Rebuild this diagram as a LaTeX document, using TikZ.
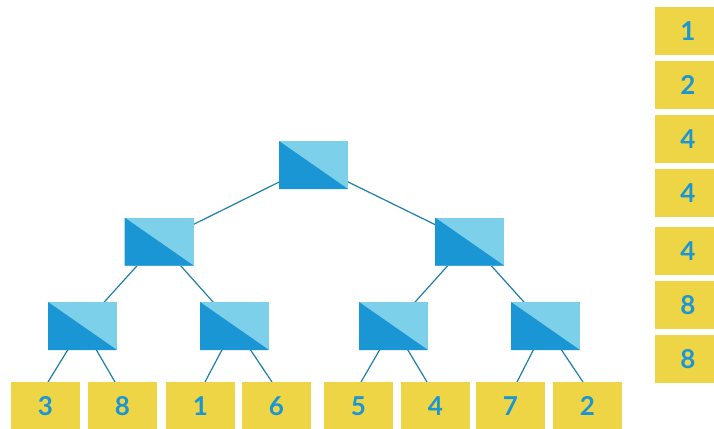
\documentclass[tikz,border=0pt]{standalone}
\usepackage{fontspec}
\setmainfont{Lato}
\usetikzlibrary{calc,backgrounds}
\definecolor{darkb}{HTML}{1A96D4}
\definecolor{lightb}{HTML}{7DD0EA}
\definecolor{linec}{HTML}{1E7FA8}
\definecolor{yel}{HTML}{EED545}
\definecolor{numc}{HTML}{1A96D4}
\tikzset{
  swbox/.style={rectangle, minimum width=69pt, minimum height=48pt, inner sep=0pt, outer sep=0pt,
    fill=lightb, path picture={\fill[darkb] (path picture bounding box.north west) -- (path picture bounding box.south west) -- (path picture bounding box.south east) -- cycle;}},
  leaf/.style={rectangle, minimum width=69pt, minimum height=48pt, inner sep=0pt, outer sep=0pt,
    fill=yel, text=numc, font=\fontsize{26}{26}\selectfont\bfseries},
  outbox/.style={leaf, minimum width=66pt},
  conn/.style={draw=linec, line width=1.2pt}
}
\begin{document}
\begin{tikzpicture}[x=1pt,y=-1pt]
\clip (0,0) rectangle (714,428);
% switch boxes
\node[swbox] (r) at (313.5,165) {};
\node[swbox] (a) at (159,241.5) {};
\node[swbox] (b) at (469.5,241.5) {};
\node[swbox] (a1) at (82.5,326) {};
\node[swbox] (a2) at (234.5,326) {};
\node[swbox] (b1) at (393.5,326) {};
\node[swbox] (b2) at (545.5,326) {};
% leaves
\node[leaf] (l1) at (45.5,406) {3};
\node[leaf] (l2) at (122.5,406) {8};
\node[leaf] (l3) at (200.5,406) {1};
\node[leaf] (l4) at (276.5,406) {6};
\node[leaf] (l5) at (358.5,406) {5};
\node[leaf] (l6) at (435.5,406) {4};
\node[leaf] (l7) at (510.5,406) {7};
\node[leaf] (l8) at (587.5,406) {2};
% output column
\node[outbox] (o1) at (688,31) {1};
\node[outbox] (o2) at (688,85) {2};
\node[outbox] (o3) at (688,139) {4};
\node[outbox] (o4) at (688,193) {4};
\node[outbox] (o5) at (688,251) {4};
\node[outbox] (o6) at (688,305) {8};
\node[outbox] (o7) at (688,359) {8};
\begin{scope}[on background layer]
\fill[white] (0,0) rectangle (714,428);
\draw[conn] (r.center) -- (a.center);
\draw[conn] (r.center) -- (b.center);
\draw[conn] (a.center) -- (a1.center);
\draw[conn] (a.center) -- (a2.center);
\draw[conn] (b.center) -- (b1.center);
\draw[conn] (b.center) -- (b2.center);
\draw[conn] (a1.center) -- ($(l1.north)+(2.5,0)$);
\draw[conn] (a1.center) -- ($(l2.north)+(-7.5,0)$);
\draw[conn] (a2.center) -- ($(l3.north)+(4.5,0)$);
\draw[conn] (a2.center) -- ($(l4.north)+(-4.5,0)$);
\draw[conn] (b1.center) -- ($(l5.north)+(2.5,0)$);
\draw[conn] (b1.center) -- ($(l6.north)+(-8.5,0)$);
\draw[conn] (b2.center) -- ($(l7.north)+(6.5,0)$);
\draw[conn] (b2.center) -- ($(l8.north)+(-4.5,0)$);
\end{scope}
\end{tikzpicture}
\end{document}
